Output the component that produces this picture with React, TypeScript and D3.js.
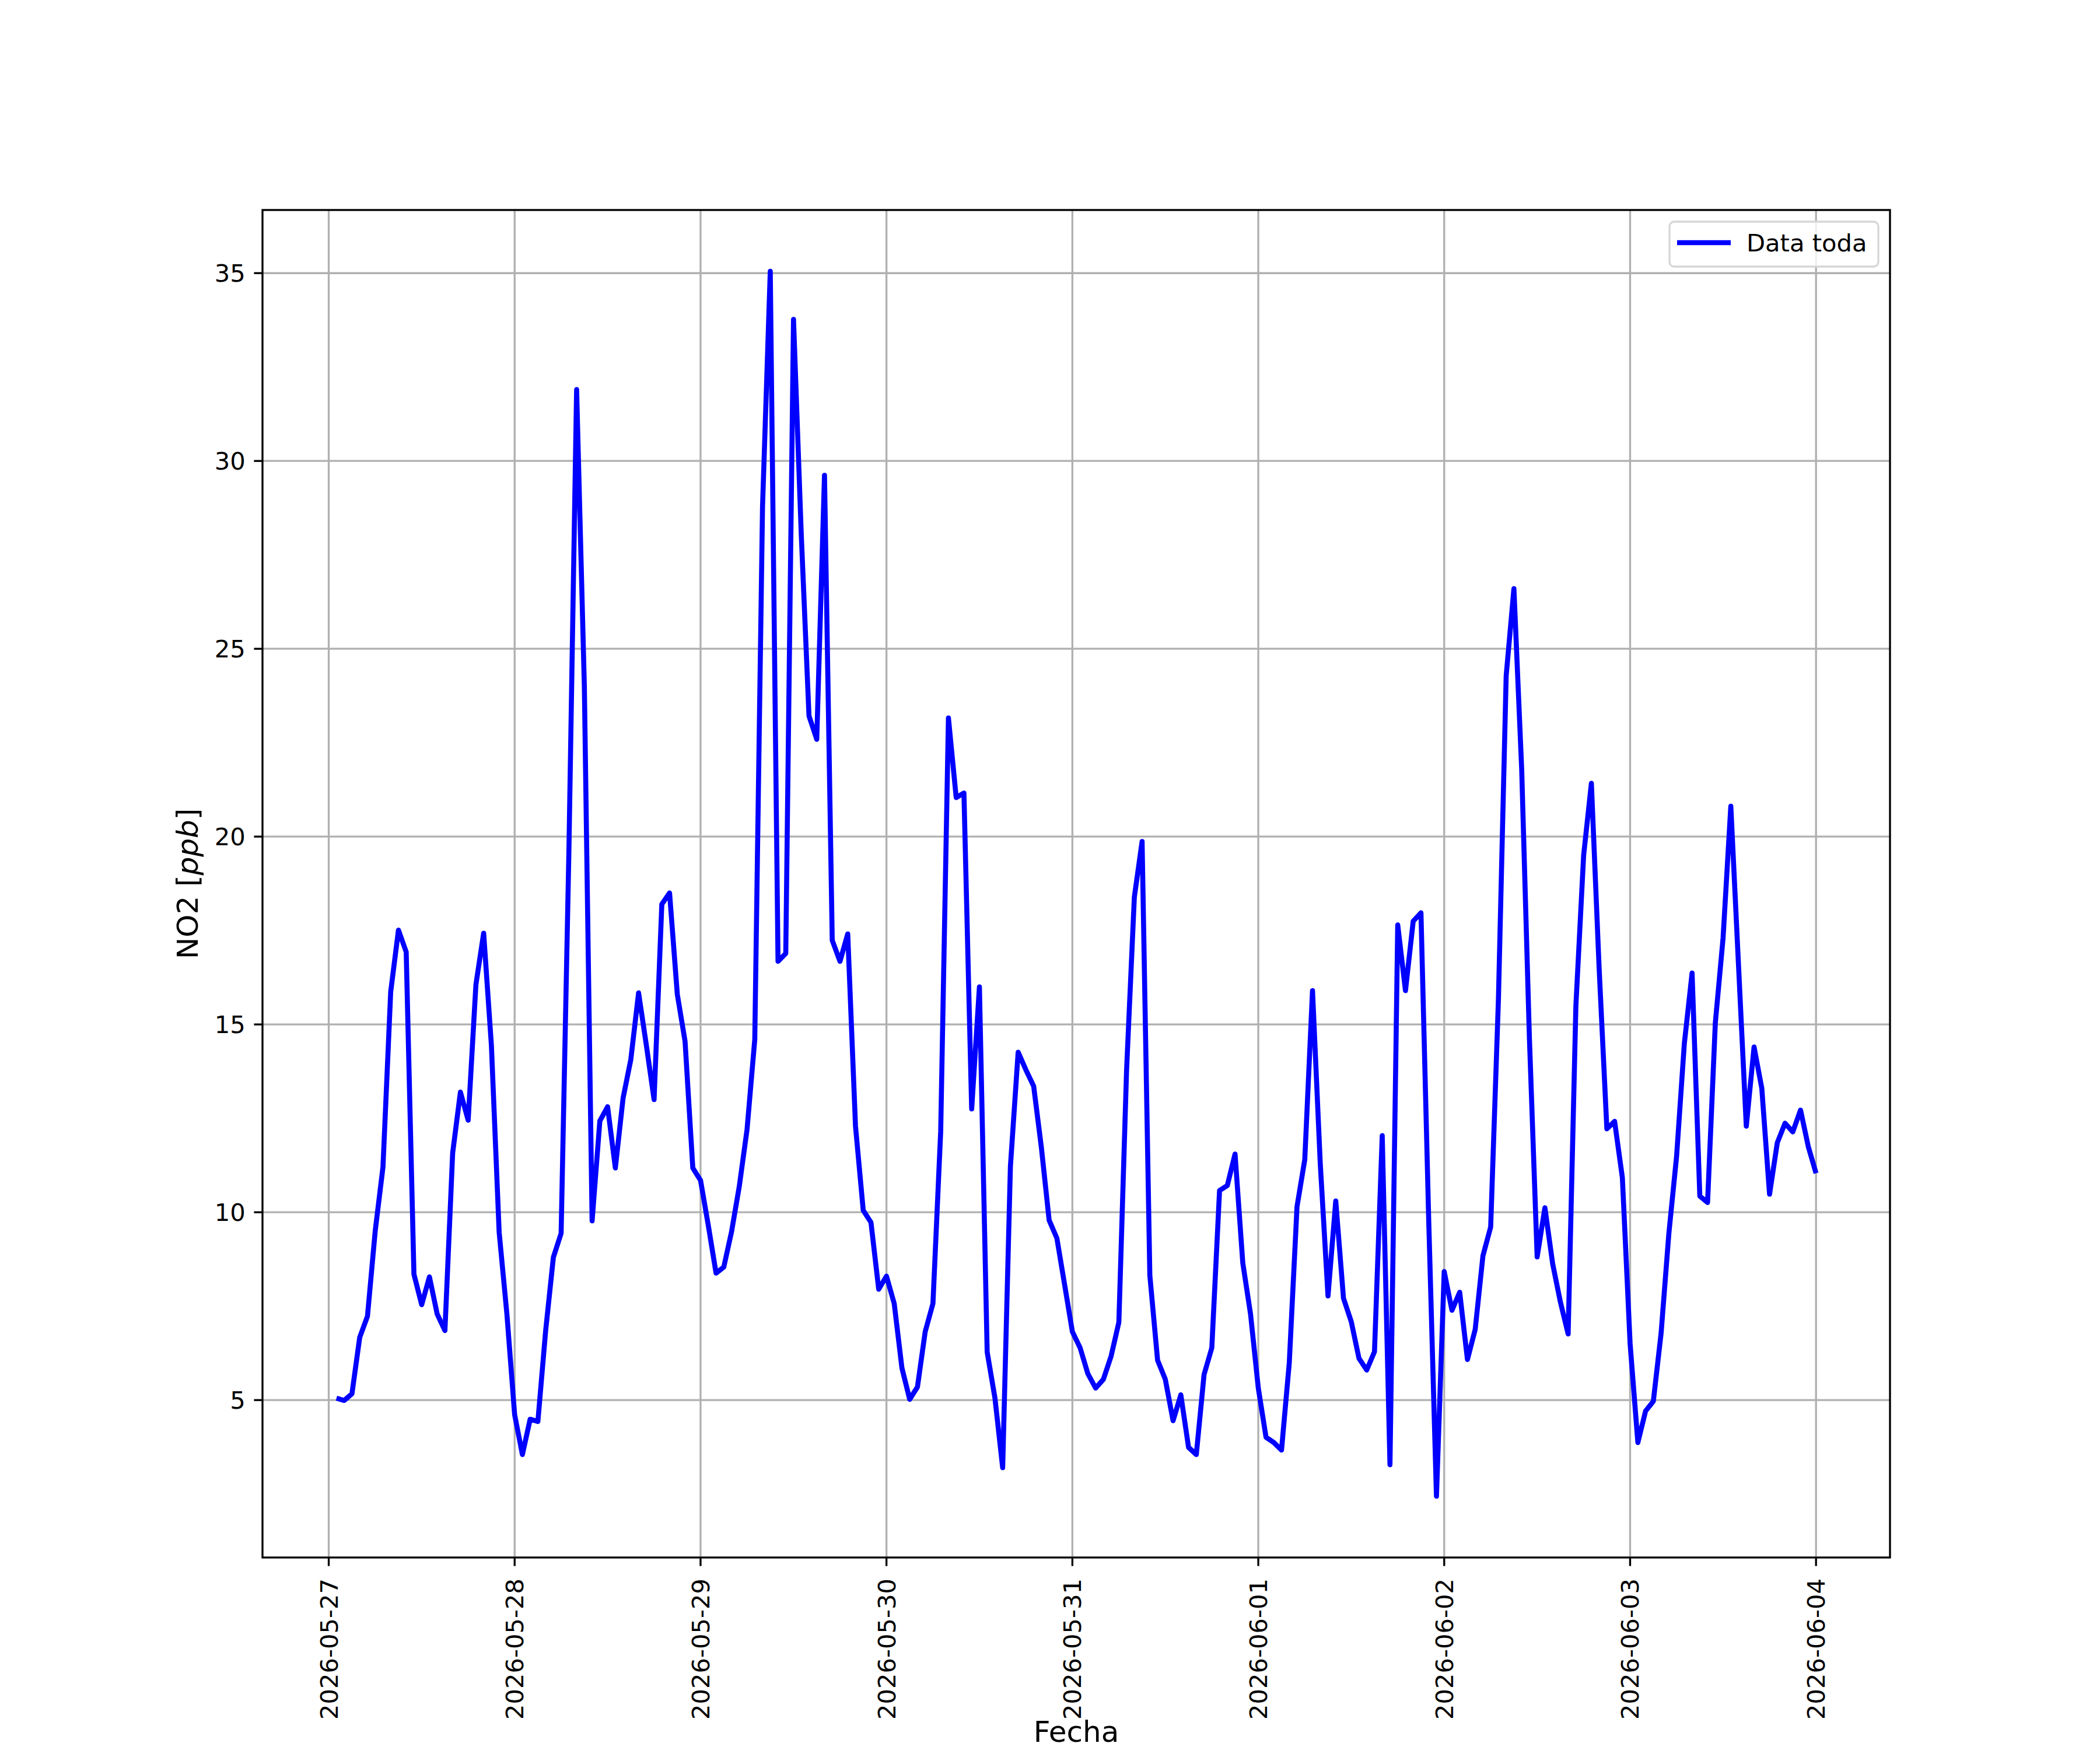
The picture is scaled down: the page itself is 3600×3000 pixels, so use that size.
import { useMemo } from 'react';
import * as d3 from 'd3';

// hourly NO2 readings, each array = 01:00 .. 24:00 of that day
const may27 = [5.05, 4.99, 5.17, 6.67, 7.23, 9.5, 11.2, 15.87, 17.51, 16.93, 8.35, 7.54, 8.28, 7.29, 6.85, 11.58, 13.2, 12.45, 16.06, 17.43, 14.44, 9.47, 7.29, 4.61];
const may28 = [3.55, 4.49, 4.43, 6.84, 8.8, 9.44, 19.56, 31.9, 23.99, 9.77, 12.43, 12.81, 11.18, 13.04, 14.07, 15.84, 14.45, 13.0, 18.2, 18.5, 15.8, 14.55, 11.18, 10.85];
const may29 = [9.65, 8.38, 8.54, 9.48, 10.69, 12.2, 14.6, 28.78, 35.05, 16.68, 16.89, 33.77, 28.05, 23.21, 22.59, 29.62, 17.24, 16.68, 17.41, 12.3, 10.05, 9.73, 7.95, 8.3];
const may30 = [7.57, 5.85, 5.02, 5.35, 6.82, 7.57, 12.15, 23.16, 21.04, 21.16, 12.75, 16.0, 6.28, 5.06, 3.2, 11.22, 14.26, 13.79, 13.36, 11.72, 9.79, 9.31, 8.07, 6.82];
const may31 = [6.39, 5.7, 5.32, 5.55, 6.17, 7.07, 13.8, 18.39, 19.87, 8.32, 6.06, 5.55, 4.45, 5.14, 3.74, 3.55, 5.68, 6.39, 10.58, 10.71, 11.55, 8.65, 7.29, 5.32];
const jun01 = [4.01, 3.87, 3.67, 5.99, 10.15, 11.4, 15.9, 11.3, 7.77, 10.3, 7.71, 7.09, 6.11, 5.8, 6.29, 12.04, 3.28, 17.65, 15.9, 17.75, 17.97, 9.8, 2.44, 8.42];
const jun02 = [7.39, 7.87, 6.08, 6.88, 8.84, 9.61, 15.67, 24.28, 26.6, 21.81, 14.64, 8.81, 10.12, 8.63, 7.61, 6.76, 15.5, 19.5, 21.42, 16.5, 12.22, 12.42, 10.92, 6.5];
const jun03 = [3.87, 4.71, 4.97, 6.78, 9.43, 11.49, 14.49, 16.37, 10.43, 10.26, 15.04, 17.3, 20.81, 16.55, 12.29, 14.4, 13.3, 10.48, 11.85, 12.37, 12.14, 12.72, 11.75, 11.04];

const firstHour = Date.UTC(2026, 4, 27, 1);
const yTicks = [5, 10, 15, 20, 25, 30, 35];
const seriesLabel = 'Data toda';

const W = 3600;
const H = 3000;
const left = 450;
const right = 3240;
const top = 360;
const bottom = 2670;
const font = '"DejaVu Sans", sans-serif';
const tickFs = 41.67;
const labelFs = 50;

type Pt = { t: Date; v: number };

export default function App() {
  const { path, x, y, xTicks } = useMemo(() => {
    const values = [may27, may28, may29, may30, may31, jun01, jun02, jun03].flat();
    const pts: Pt[] = values.map((v, i) => ({ t: new Date(firstHour + i * 3600e3), v }));

    const [t0, t1] = d3.extent(pts, (d) => +d.t) as [number, number];
    const [v0, v1] = d3.extent(pts, (d) => d.v) as [number, number];
    const dt = (t1 - t0) * 0.05;
    const dv = (v1 - v0) * 0.05;

    const x = d3.scaleUtc().domain([new Date(t0 - dt), new Date(t1 + dt)]).range([left, right]);
    const y = d3.scaleLinear().domain([v0 - dv, v1 + dv]).range([bottom, top]);

    const line = d3
      .line<Pt>()
      .x((d) => x(d.t))
      .y((d) => y(d.v));

    return { path: line(pts) ?? '', x, y, xTicks: x.ticks(d3.utcDay.every(1)!) };
  }, []);

  const fmt = d3.utcFormat('%Y-%m-%d');

  return (
    <svg
      width={W}
      height={H}
      style={{ position: 'absolute', left: 0, top: 0, background: '#fff', fontFamily: font }}
    >
      <rect width={W} height={H} fill="#fff" />

      {/* grid */}
      <g stroke="#b0b0b0" strokeWidth={3.33}>
        {xTicks.map((t) => (
          <line key={+t} x1={x(t)} x2={x(t)} y1={top} y2={bottom} />
        ))}
        {yTicks.map((v) => (
          <line key={v} x1={left} x2={right} y1={y(v)} y2={y(v)} />
        ))}
      </g>

      <path d={path} fill="none" stroke="#0000ff" strokeWidth={8.6} strokeLinejoin="round" strokeLinecap="butt" />

      {/* frame */}
      <rect x={left} y={top} width={right - left} height={bottom - top} fill="none" stroke="#000" strokeWidth={3.33} />

      {/* x axis */}
      <g>
        {xTicks.map((t) => (
          <g key={+t}>
            <line x1={x(t)} x2={x(t)} y1={bottom} y2={bottom + 14.6} stroke="#000" strokeWidth={3.33} />
            <text
              transform={`translate(${x(t)},${bottom + 36}) rotate(-90)`}
              textAnchor="end"
              dy="0.36em"
              fontSize={tickFs}
            >
              {fmt(t)}
            </text>
          </g>
        ))}
      </g>

      {/* y axis */}
      <g>
        {yTicks.map((v) => (
          <g key={v}>
            <line x1={left - 14.6} x2={left} y1={y(v)} y2={y(v)} stroke="#000" strokeWidth={3.33} />
            <text x={left - 29.2} y={y(v)} dy="0.36em" textAnchor="end" fontSize={tickFs}>
              {v}
            </text>
          </g>
        ))}
      </g>

      <text x={(left + right) / 2} y={2986} textAnchor="middle" fontSize={labelFs}>
        Fecha
      </text>
      <text transform={`translate(339,${(top + bottom) / 2}) rotate(-90)`} textAnchor="middle" fontSize={labelFs}>
        NO2 [<tspan fontStyle="italic">ppb</tspan>]
      </text>

      {/* legend */}
      <g>
        <rect x={2862} y={380} width={358} height={77} rx={8} fill="#fff" fillOpacity={0.8} stroke="#d6d6d6" strokeWidth={3.33} />
        <line x1={2875} x2={2967} y1={416} y2={416} stroke="#0000ff" strokeWidth={8.6} />
        <text x={2994} y={431} fontSize={tickFs}>
          {seriesLabel}
        </text>
      </g>
    </svg>
  );
}
